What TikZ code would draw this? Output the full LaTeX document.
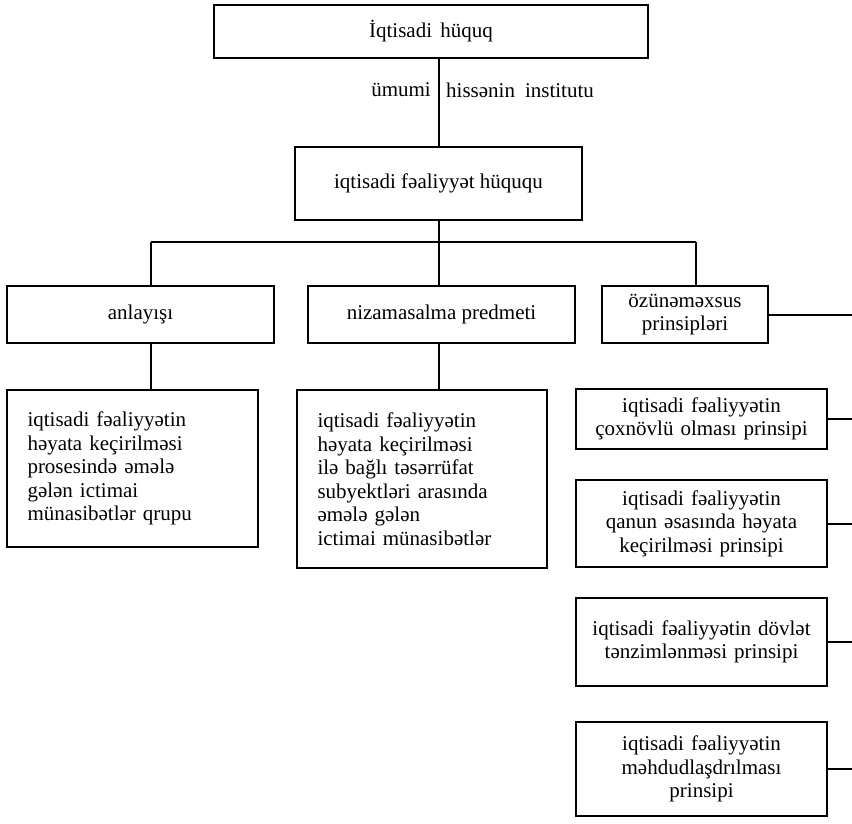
\documentclass[tikz,border=0pt]{standalone}
\usepackage{fontspec}
\setmainfont{Liberation Serif}
\usetikzlibrary{positioning}

\begin{document}
\begin{tikzpicture}[x=1pt,y=-1pt,
		box/.style={draw,line width=2pt,align=center,inner sep=4pt,
			font=\fontsize{21}{23.5}\selectfont},
		detail/.style={box,align=left,inner xsep=20.5pt},
		prin/.style={box,text width=235pt,minimum width=251pt},
		lbl/.style={inner sep=0pt,font=\fontsize{21}{23.5}\selectfont},
		link/.style={line width=2pt}]
		\useasboundingbox (0,0) rectangle (852,824);
		% yuxarı hissə
		\node[box,minimum width=434pt,minimum height=53pt] (huquq) at (431,31.5) {İqtisadi\hspace{3pt} hüquq};
		\node[box,minimum width=287pt,minimum height=73pt] (fhuquq) at (438.5,183.5) {iqtisadi fəaliyyət hüququ};
		\node[lbl,anchor=east] (umumi) at (431,90) {ümumi};
		\node[lbl,anchor=west] (hissenin) at (446,90) {hissənin\hspace{10pt}institutu};
		% ikinci sıra
		\node[box,minimum width=267pt,minimum height=57pt] (anl) at (140.5,314.5) {anlayışı};
		\node[box,minimum width=267pt,minimum height=57pt] (niz) at (441.5,314.5) {nizamasalma predmeti};
		\node[box,minimum width=166pt,minimum height=57pt] (ozu) at (685,314.5) {özünəməxsus\\prinsipləri};
		% izahlar
		\node[detail,text width=210pt,minimum height=157pt] (anlD) at (132.5,468.5)
			{iqtisadi fəaliyyətin\\həyata keçirilməsi\\prosesində əmələ\\gələn ictimai\\münasibətlər qrupu};
		\node[detail,text width=209pt,minimum height=178pt] (nizD) at (422,479)
			{iqtisadi fəaliyyətin\\həyata keçirilməsi\\ilə bağlı təsərrüfat\\subyektləri arasında\\əmələ gələn\\ictimai münasibətlər};
		% prinsiplər
		\node[prin,minimum height=60pt] (p1) at (701.5,419) {iqtisadi fəaliyyətin\\çoxnövlü olması prinsipi};
		\node[prin,minimum height=87pt] (p2) at (701.5,523.5) {iqtisadi fəaliyyətin\\qanun əsasında həyata\\keçirilməsi prinsipi};
		\node[prin,minimum height=88pt] (p3) at (701.5,642) {iqtisadi fəaliyyətin dövlət\\tənzimlənməsi prinsipi};
		\node[prin,minimum height=94pt] (p4) at (701.5,769) {iqtisadi fəaliyyətin\\məhdudlaşdrılması\\prinsipi};
		% xətlər
		\coordinate (busL) at (151,242);
		\coordinate (busR) at (696,242);
		\coordinate (edge) at (852,0);
		\draw[link] (huquq.south -| fhuquq.north) -- (fhuquq.north);
		\draw[link] (fhuquq.south) -- (fhuquq.south |- busL);
		\draw[link] (busL) -- (busR);
		\draw[link] (busL) -- (busL |- anl.north);
		\draw[link] (fhuquq.south |- busL) -- (fhuquq.south |- niz.north);
		\draw[link] (busR) -- (busR |- ozu.north);
		\draw[link] (anl.south -| busL) -- (anlD.north -| busL);
		\draw[link] (niz.south -| fhuquq.south) -- (nizD.north -| fhuquq.south);
		\draw[link] (ozu.east) -- (ozu.east -| edge);
		\foreach \p in {p1,p2,p3,p4}
			\draw[link] (\p.east) -- (\p.east -| edge);
	\end{tikzpicture}
\end{document}
